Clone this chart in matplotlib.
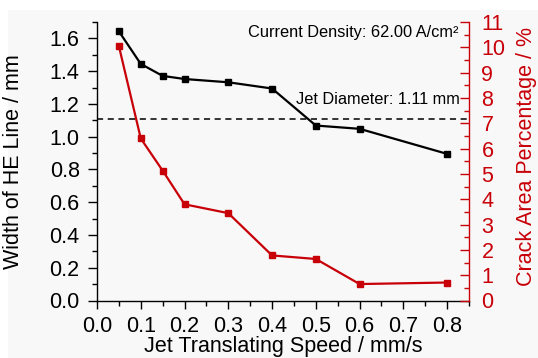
import matplotlib
matplotlib.use("Agg")
import matplotlib.pyplot as plt
from matplotlib.patches import Rectangle
from matplotlib.ticker import MultipleLocator

plt.rcParams['font.family'] = ['Liberation Sans', 'DejaVu Sans']

speed = [0.05, 0.1, 0.15, 0.2, 0.3, 0.4, 0.5, 0.6, 0.8]
width_he = [1.643, 1.444, 1.371, 1.352, 1.332, 1.294, 1.068, 1.048, 0.895]
crack_pct = [10.05, 6.4, 5.13, 3.8, 3.45, 1.78, 1.64, 0.65, 0.71]
jet_diameter = 1.11
xtick_labels = ['0.0', '0.1', '0.2', '0.3', '0.4', '0.5', '0.6', '0.7', '0.8']

RED = '#c80008'
FS = 15.5

fig = plt.figure(figsize=(5.38, 3.58), dpi=100)
fig.patch.set_facecolor('white')
fig.patches.append(Rectangle((8/538, 0), 1, 1 - 10/358, transform=fig.transFigure,
                             facecolor='#f8f8f8', edgecolor='none', zorder=-10))

ax = fig.add_axes([97/538, 1 - 300.5/358, (469-97)/538, (300.5-22)/358])
ax.patch.set_alpha(0)
ax2 = ax.twinx()
ax2.patch.set_alpha(0)

ax.plot(speed, width_he, color='black', lw=1.6, marker='s', ms=4.6, zorder=3)
ax2.plot(speed, crack_pct, color=RED, lw=1.6, marker='s', ms=4.6, zorder=3)
ax.axhline(jet_diameter, color='black', lw=1.1, ls=(0, (4, 3)))

ax.set_xlim(0, 0.85)
ax.set_ylim(0, 1.7)
ax2.set_ylim(0, 11)

ax.xaxis.set_minor_locator(MultipleLocator(0.05))
ax.yaxis.set_major_locator(MultipleLocator(0.2))
ax.yaxis.set_minor_locator(MultipleLocator(0.1))
ax2.yaxis.set_major_locator(MultipleLocator(1))
ax2.yaxis.set_minor_locator(MultipleLocator(0.5))
ax.set_xticks([float(t) for t in xtick_labels])
ax.set_xticklabels(xtick_labels)

for s in ['top', 'right']:
    ax.spines[s].set_visible(False)
for s in ['top', 'left', 'bottom']:
    ax2.spines[s].set_visible(False)
ax.spines['left'].set_linewidth(1.0)
ax.spines['bottom'].set_linewidth(1.0)
ax2.spines['right'].set_color(RED)
ax2.spines['right'].set_linewidth(1.0)

ax.tick_params(axis='y', which='major', direction='out', length=6.5, width=1.0,
               labelsize=FS, pad=6)
ax.tick_params(axis='x', which='major', direction='out', length=5.5, width=1.0,
               labelsize=FS, pad=5.5)
ax.tick_params(axis='both', which='minor', direction='out', length=3.5, width=1.0)
ax2.tick_params(axis='y', which='major', direction='in', length=6.5, width=1.0,
                colors=RED, labelsize=FS, pad=9)
ax2.tick_params(axis='y', which='minor', direction='in', length=3.5, width=1.0, colors=RED)

ax.set_xlabel('Jet Translating Speed / mm/s', fontsize=FS, va='bottom')
ax.xaxis.set_label_coords(0.5, (300.5 - 357) / 278.5)
ax.set_ylabel('Width of HE Line / mm', fontsize=FS)
ax.yaxis.set_label_coords((24 - 97) / 372, 0.5)
ax2.set_ylabel('Crack Area Percentage / %', fontsize=FS, color=RED)
ax2.yaxis.set_label_coords((516 - 97) / 372, (300.5 - 157) / 278.5)

ax.text(458/538, 1 - 33/358, 'Current Density: 62.00 A/cm²', transform=fig.transFigure,
        ha='right', va='center', fontsize=11.8)
ax.text(460/538, 1 - 100/358, 'Jet Diameter: 1.11 mm', transform=fig.transFigure,
        ha='right', va='center', fontsize=11.8)

fig.savefig('out.png', dpi=100, facecolor=fig.get_facecolor())
